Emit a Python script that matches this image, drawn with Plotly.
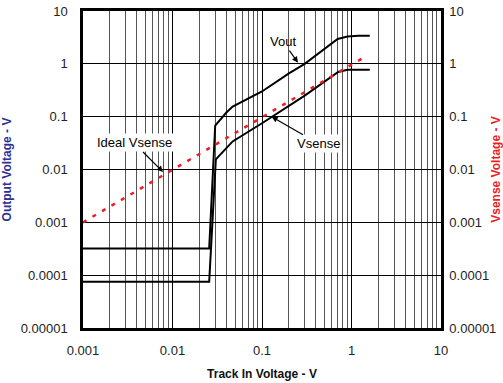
import plotly.graph_objects as go

# Data
vout_x = [0.001, 0.0257, 0.03, 0.04, 0.047, 0.1, 0.2, 0.3, 0.7, 0.9, 1.2, 1.6]
vout_y = [3.2e-4, 3.2e-4, 0.068, 0.12, 0.155, 0.30, 0.66, 1.0, 2.95, 3.3, 3.4, 3.4]

vsense_x = [0.001, 0.0257, 0.0305, 0.04, 0.047, 0.1, 0.2, 0.3, 0.71, 0.9, 1.2, 1.6]
vsense_y = [7.5e-5, 7.5e-5, 0.0155, 0.026, 0.034, 0.075, 0.16, 0.25, 0.70, 0.77, 0.77, 0.77]

ideal_x = [0.001, 1.3]
ideal_y = [0.001, 1.25]

x_ticks = [0.001, 0.01, 0.1, 1, 10]
x_ticktext = ["0.001", "0.01", "0.1", "1", "10"]
y_ticks = [1e-5, 1e-4, 1e-3, 1e-2, 1e-1, 1, 10]
y_ticktext = ["0.00001", "0.0001", "0.001", "0.01", "0.1", "1", "10"]

FONT = "Liberation Sans, Arial, sans-serif"

fig = go.Figure()
fig.add_trace(go.Scatter(x=vout_x, y=vout_y, mode="lines",
                         line=dict(color="black", width=2), showlegend=False))
fig.add_trace(go.Scatter(x=vsense_x, y=vsense_y, mode="lines",
                         line=dict(color="black", width=2), showlegend=False))
fig.add_trace(go.Scatter(x=ideal_x, y=ideal_y, mode="lines", yaxis="y2",
                         line=dict(color="#EE1C25", width=2.5, dash="4px,7px"),
                         showlegend=False))

fig.update_layout(
    width=503, height=383,
    margin=dict(l=83, r=62, t=11, b=55),
    paper_bgcolor="white", plot_bgcolor="white",
    font=dict(family=FONT, size=13, color="#222"),
    xaxis=dict(
        type="log", range=[-3, 1], automargin=False,
        tickvals=x_ticks, ticktext=x_ticktext, ticks="",
        ticklabelstandoff=9,
        showgrid=True, gridcolor="black", gridwidth=1,
        minor=dict(showgrid=True, dtick="D1", gridcolor="#555", gridwidth=1, ticks=""),
        showline=True, linecolor="black", linewidth=2.5, mirror=True,
        zeroline=False,
        title=dict(text="<b>Track In Voltage - V</b>",
                   font=dict(family=FONT, size=12, color="#111"), standoff=13),
    ),
    yaxis=dict(
        type="log", range=[-5, 1], automargin=False,
        tickvals=y_ticks, ticktext=y_ticktext, ticks="",
        ticklabelstandoff=10,
        showgrid=True, gridcolor="black", gridwidth=1,
        showline=True, linecolor="black", linewidth=2.5, mirror=True,
        zeroline=False,
        title=dict(text="<b>Output Voltage - V</b>",
                   font=dict(family=FONT, size=12, color="#2E3192"), standoff=8),
    ),
    yaxis2=dict(
        type="log", range=[-5, 1], overlaying="y", side="right", automargin=False,
        tickvals=y_ticks, ticktext=y_ticktext, ticks="",
        ticklabelstandoff=3,
        showgrid=False, zeroline=False,
        showline=True, linecolor="black", linewidth=2.5,
        title=dict(text="<b>Vsense Voltage - V</b>",
                   font=dict(family=FONT, size=12, color="#EE1C25"), standoff=20),
    ),
)

ann_font = dict(family=FONT, size=13, color="black")
fig.add_annotation(x=-0.598, y=0.021, xref="x", yref="y", text="Vout",
                   showarrow=True, ax=-15, ay=-21, arrowhead=2, arrowsize=1,
                   arrowwidth=1.2, arrowcolor="black", font=ann_font)
fig.add_annotation(x=-0.892, y=-1.0, xref="x", yref="y", text="Vsense",
                   showarrow=True, ax=47, ay=27, arrowhead=2, arrowsize=1,
                   arrowwidth=1.2, arrowcolor="black", font=ann_font,
                   bgcolor="white")
fig.add_annotation(x=-2.106, y=-2.047, xref="x", yref="y", text="Ideal Vsense",
                   showarrow=True, ax=-29, ay=-29, arrowhead=2, arrowsize=1,
                   arrowwidth=1.2, arrowcolor="black", font=ann_font,
                   bgcolor="white")

fig.write_html("out.html", config={"displayModeBar": False},
               post_script="document.body.style.margin='0';document.body.style.overflow='hidden';")
